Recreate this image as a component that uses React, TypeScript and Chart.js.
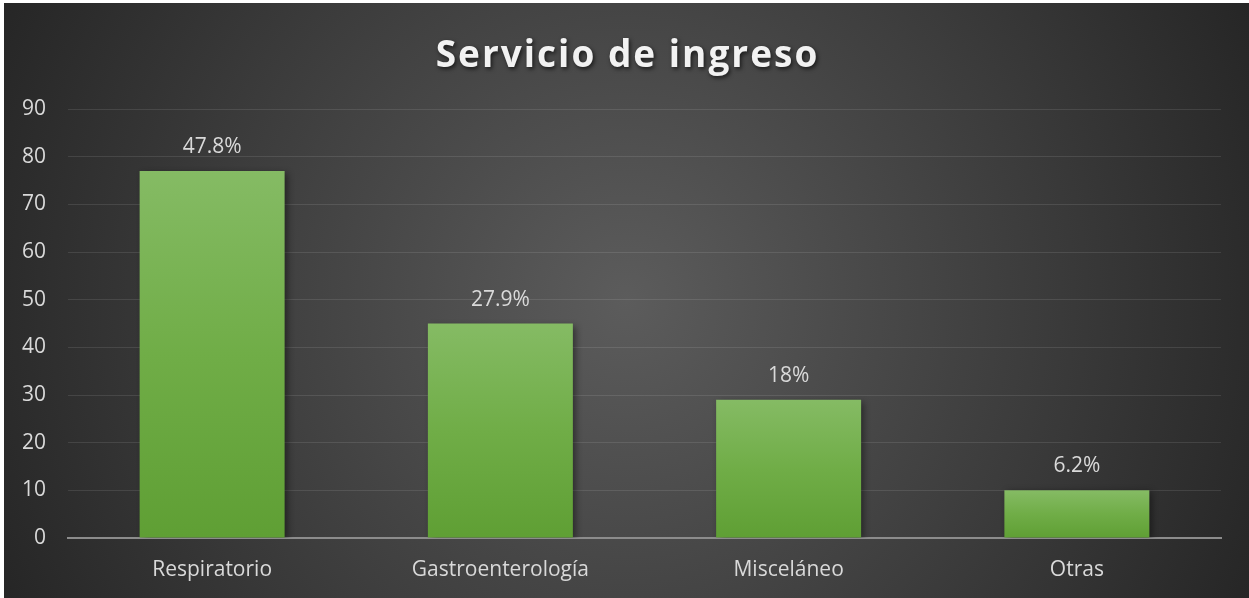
import React, { useEffect, useRef } from "react";
import { Chart, registerables } from "chart.js";

Chart.register(...registerables);

const titleText = "Servicio de ingreso";
const categories = ["Respiratorio", "Gastroenterología", "Misceláneo", "Otras"];
const values = [77, 45, 29, 10];
const percentLabels = ["47.8%", "27.9%", "18%", "6.2%"];
const yMin = 0;
const yMax = 90;
const yStep = 10;

const FONT = "'Open Sans', 'Noto Sans', sans-serif";

const titlePlugin = {
  id: "customTitle",
  afterDraw(chart: any) {
    const ctx = chart.ctx as CanvasRenderingContext2D;
    ctx.save();
    ctx.font = `bold 37px ${FONT}`;
    (ctx as any).letterSpacing = "2px";
    ctx.fillStyle = "#f2f2f2";
    ctx.textAlign = "center";
    ctx.textBaseline = "alphabetic";
    ctx.shadowColor = "rgba(0,0,0,0.65)";
    ctx.shadowBlur = 4;
    ctx.shadowOffsetX = 1.5;
    ctx.shadowOffsetY = 2;
    ctx.fillText(titleText, chart.width / 2 + 1, 64);
    ctx.restore();
  },
};

const shadowPlugin = {
  id: "barShadow",
  beforeDatasetDraw(chart: any) {
    const ctx = chart.ctx as CanvasRenderingContext2D;
    ctx.save();
    ctx.shadowColor = "rgba(0,0,0,0.45)";
    ctx.shadowBlur = 7;
    ctx.shadowOffsetX = 3;
    ctx.shadowOffsetY = 2;
  },
  afterDatasetDraw(chart: any) {
    chart.ctx.restore();
  },
};

const labelPlugin = {
  id: "barLabels",
  afterDatasetsDraw(chart: any) {
    const ctx = chart.ctx as CanvasRenderingContext2D;
    const meta = chart.getDatasetMeta(0);
    ctx.save();
    ctx.font = `21px ${FONT}`;
    ctx.fillStyle = "#d9d9d9";
    ctx.textAlign = "center";
    ctx.textBaseline = "alphabetic";
    meta.data.forEach((el: any, i: number) => {
      ctx.fillText(percentLabels[i], el.x, el.y - 18);
    });
    ctx.restore();
  },
};

export default function App() {
  const ref = useRef<HTMLCanvasElement | null>(null);

  useEffect(() => {
    if (!ref.current) return;
    const chart = new Chart(ref.current, {
      type: "bar",
      data: {
        labels: categories,
        datasets: [
          {
            data: values,
            barPercentage: 0.503,
            categoryPercentage: 1,
            borderWidth: 0,
            backgroundColor: (context: any) => {
              const c = context.chart;
              const yScale = c.scales?.y;
              if (!yScale || context.raw == null) return "#72ad4b";
              const top = yScale.getPixelForValue(context.raw);
              const base = yScale.getPixelForValue(0);
              if (!Number.isFinite(top) || !Number.isFinite(base) || top === base) return "#72ad4b";
              const g = c.ctx.createLinearGradient(0, top, 0, base);
              g.addColorStop(0, "#85bb64");
              g.addColorStop(0.5, "#70ad47");
              g.addColorStop(1, "#5f9f34");
              return g;
            },
          },
        ],
      },
      options: {
        animation: false,
        responsive: false,
        maintainAspectRatio: false,
        layout: { padding: { left: 0, right: 28, top: 106, bottom: 0 } },
        plugins: {
          legend: { display: false },
          title: { display: false },
          tooltip: { enabled: false },
        },
        scales: {
          x: {
            afterFit: (scale: any) => {
              scale.height = 60;
            },
            grid: { display: false, drawTicks: false },
            border: { display: true, color: "#8c8c8c", width: 2 },
            ticks: {
              color: "#d9d9d9",
              font: { family: FONT, size: 21 },
              padding: 19,
            },
          },
          y: {
            min: yMin,
            max: yMax,
            afterFit: (scale: any) => {
              scale.width = 64;
            },
            grid: { color: "rgba(255,255,255,0.1)", lineWidth: 1, drawTicks: false },
            border: { display: false },
            ticks: {
              stepSize: yStep,
              color: "#d9d9d9",
              font: { family: FONT, size: 21 },
              padding: 22,
            },
          },
        },
      },
      plugins: [shadowPlugin, labelPlugin, titlePlugin],
    });
    return () => chart.destroy();
  }, []);

  return (
    <div
      style={{
        position: "absolute",
        left: 4,
        top: 3,
        width: 1245,
        height: 595,
        background:
          "radial-gradient(circle farthest-corner at 50% 50%, #5c5c5c 0%, #262626 100%)",
      }}
    >
      <canvas ref={ref} width={1245} height={595} style={{ display: "block" }} />
    </div>
  );
}
